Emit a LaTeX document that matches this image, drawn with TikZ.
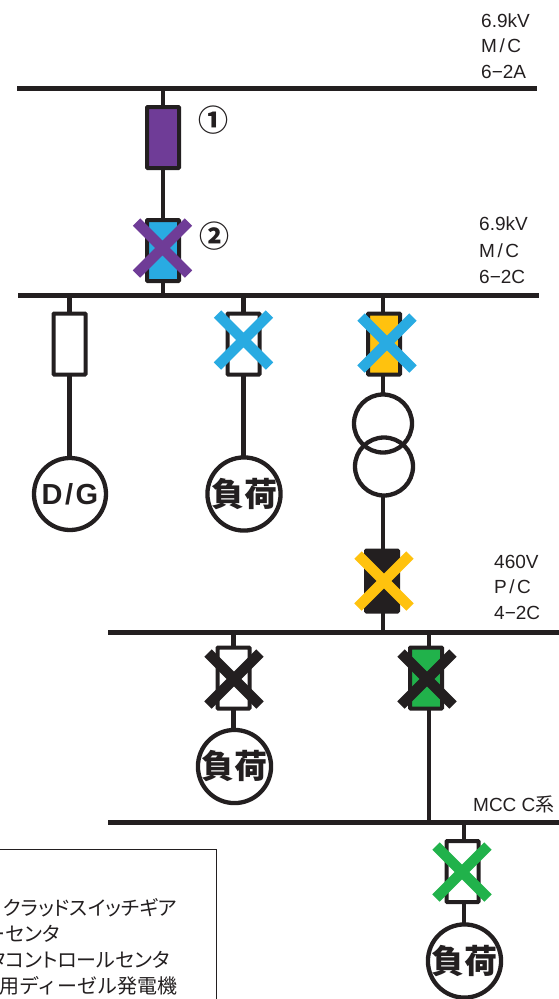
\documentclass[tikz,border=0pt]{standalone}
\usepackage{fontspec}
\setmainfont{Liberation Sans}
\newfontfamily\jp{Noto Sans CJK JP}
\newfontfamily\pcjk[RawFeature=+palt]{Noto Sans CJK JP}
\usetikzlibrary{calc}
\definecolor{ink}{HTML}{231F20}
\definecolor{cpurple}{HTML}{6F3C97}
\definecolor{cblue}{HTML}{29ABE2}
\definecolor{cyellow}{HTML}{FFC20E}
\definecolor{cgreen}{HTML}{21B24B}
\tikzset{
  x=1pt,y=-1pt,
  bus/.style={draw=none,fill=ink,rectangle,minimum height=5pt,inner sep=0pt,outer sep=0pt,anchor=west},
  breaker/.style={draw=ink,line width=4pt,rectangle,rounded corners=0.7pt,minimum width=32pt,minimum height=61pt,inner sep=0pt,outer sep=0pt},
  wire/.style={draw=ink,line width=4.3pt},
  disc/.style={draw=ink,line width=4.3pt,circle,minimum size=72pt,inner sep=0pt,outer sep=0pt,text=ink,font=\jp\fontsize{33}{33}\selectfont\bfseries},
  coil/.style={draw=ink,line width=4.3pt,circle,minimum size=58pt,inner sep=0pt,outer sep=0pt},
  lbl/.style={anchor=base west,inner sep=0pt,text=ink,font=\fontsize{19}{19}\selectfont},
  legendtxt/.style={anchor=base east,inner sep=0pt,text=ink,font=\pcjk\fontsize{20}{20}\selectfont},
  num/.style={inner sep=0pt,text=ink,font=\jp\fontsize{30}{30}\selectfont\bfseries},
  crossmark/.style={line width=10.5pt}
}
\newcommand{\xmark}[2]{\draw[crossmark,#2] ($(#1)+(-26,-26)$) -- ($(#1)+(26,26)$) ($(#1)+(26,-26)$) -- ($(#1)+(-26,26)$);}
\newcommand{\slashed}[2]{#1\kern2.5pt/\kern2.5pt#2}
\begin{document}
\begin{tikzpicture}
\useasboundingbox (0,0) rectangle (559,999);
% legend
\coordinate (la) at (0,849);
\coordinate (lb) at (216,849);
\coordinate (lc) at (216,999);
\draw[ink,line width=1pt] (la) -- (lb) -- (lc);
\node[legendtxt] (l1) at (177,915) {クラッドスイッチギア};
\node[legendtxt] (l2) at (60,941) {ーセンタ};
\node[legendtxt] (l3) at (170,967) {タコントロールセンタ};
\node[legendtxt,font=\jp\fontsize{20}{20}\selectfont] (l4) at (178,993) {用ディーゼル発電機};
% buses
\node[bus,minimum width=520pt] (b1) at (17,88.5) {};
\node[bus,minimum width=521pt] (b2) at (18,295.5) {};
\node[bus,minimum width=451pt] (b3) at (108,632) {};
\node[bus,minimum width=451pt] (b4) at (108,822) {};
% breakers
\node[breaker,fill=cpurple] (k1) at (163,137.5) {};
\node[breaker,fill=cblue] (k2) at (163,250.5) {};
\node[breaker,fill=white] (k3) at (69.5,344) {};
\node[breaker,fill=white] (k4) at (243.5,344) {};
\node[breaker,fill=cyellow] (k5) at (384,344) {};
\node[breaker,fill=ink] (k6) at (382,581) {};
\node[breaker,fill=white] (k7) at (233.5,678) {};
\node[breaker,fill=cgreen] (k8) at (426,678) {};
\node[breaker,fill=white] (k9) at (462.5,871.5) {};
% discs
\node[disc,font=\fontsize{29}{29}\selectfont\bfseries] (d1) at (70,494) {\slashed{D}{G}};
\node[disc] (d2) at (244,494) {負荷};
\node[disc] (d3) at (234.5,766.5) {負荷};
\node[disc] (d4) at (464.5,961) {負荷};
% transformer
\node[coil] (t1) at (383,423.5) {};
\node[coil] (t2) at (384,466.5) {};
% connectors
\draw[wire] (b1.south -| k1.north) -- (k1.north);
\draw[wire] (k1.south) -- (k2.north);
\draw[wire] (k2.south) -- (k2.south |- b2.south);
\draw[wire] (b2.south -| k3.north) -- (k3.north);
\draw[wire] (k3.south) -- (d1.north -| k3.south);
\draw[wire] (b2.south -| k4.north) -- (k4.north);
\draw[wire] (k4.south) -- (d2.north -| k4.south);
\coordinate (w5) at (383,344);
\draw[wire] (b2.south -| w5) -- (k5.north -| w5);
\draw[wire] (k5.south -| w5) -- (t1.north);
\draw[wire] (t2.south -| w5) -- (k6.north -| w5);
\draw[wire] (k6.south -| w5) -- (b3.north -| w5);
\draw[wire] (b3.south -| k7.north) -- (k7.north);
\draw[wire] (k7.south) -- (d3.north -| k7.south);
\coordinate (w8) at (429,678);
\draw[wire] (b3.south -| w8) -- (k8.north -| w8);
\draw[wire] (k8.south -| w8) -- (b4.north -| w8);
\coordinate (w9) at (464,871);
\draw[wire] (b4.south -| w9) -- (k9.north -| w9);
\draw[wire] (k9.south -| w9) -- (d4.north -| w9);
% crosses
\coordinate (x2) at (162.5,248);
\coordinate (x4) at (243.5,340);
\coordinate (x5) at (387,343);
\coordinate (x6) at (384,581);
\coordinate (x7) at (234,679);
\coordinate (x8) at (427,679);
\coordinate (x9) at (462,872);
\xmark{x2}{cpurple}
\xmark{x4}{cblue}
\xmark{x5}{cblue}
\xmark{x6}{cyellow}
\xmark{x7}{ink}
\xmark{x8}{ink}
\xmark{x9}{cgreen}
% labels
\node[num] (n1) at (213,120) {①};
\node[num] (n2) at (214,236) {②};
\node[lbl] (t11) at (481,27) {6.9kV};
\node[lbl] (t12) at (481,52) {\slashed{M}{C}};
\node[lbl] (t13) at (481,78) {6−2A};
\node[lbl] (t21) at (479,230) {6.9kV};
\node[lbl] (t22) at (479,257) {\slashed{M}{C}};
\node[lbl] (t23) at (479,283) {6−2C};
\node[lbl] (t31) at (494,568) {460V};
\node[lbl] (t32) at (494,593) {\slashed{P}{C}};
\node[lbl] (t33) at (494,619) {4−2C};
\node[lbl] (t41) at (473,811) {MCC C{\jp 系}};
\end{tikzpicture}
\end{document}
